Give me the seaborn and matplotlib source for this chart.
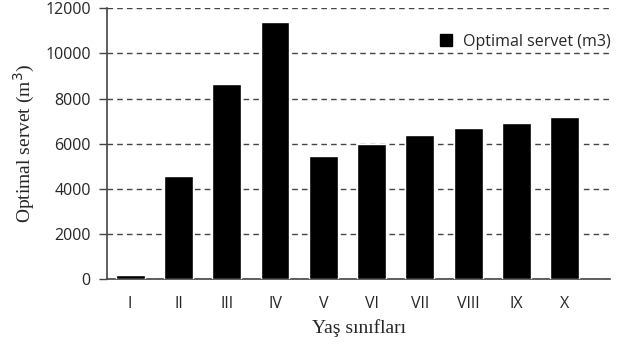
import numpy as np
import pandas as pd
import matplotlib
matplotlib.use("Agg")
import matplotlib.pyplot as plt
import seaborn as sns
from matplotlib.lines import Line2D

# Age classes and optimal stock values
classes = ["I", "II", "III", "IV", "V", "VI", "VII", "VIII", "IX", "X"]
values = [180, 4560, 8660, 11410, 5450, 6000, 6400, 6710, 6930, 7170]

df = pd.DataFrame({"sinif": classes, "servet": values})

sns.set_style("white")
plt.rcParams["font.family"] = ["Open Sans", "DejaVu Sans"]

fig = plt.figure(figsize=(6.25, 3.45), dpi=100)
ax = fig.add_axes([0.172, 0.191, 0.804, 0.785])

sns.barplot(data=df, x="sinif", y="servet", color="black", width=0.6,
            saturation=1, ax=ax, zorder=3)

ax.set_ylim(0, 12000)
ax.set_xlim(-0.47, 9.94)
ax.set_yticks(range(0, 12001, 2000))
ax.yaxis.grid(True, linestyle=(0, (4, 3)), color="#444444", linewidth=1, zorder=0)
ax.set_axisbelow(True)

for s in ["top", "right"]:
    ax.spines[s].set_visible(False)
for s in ["left", "bottom"]:
    ax.spines[s].set_color("#444444")
    ax.spines[s].set_linewidth(1.2)

ax.tick_params(axis="y", length=6, width=1, color="#444444", labelsize=11.5, pad=6, left=True)
ax.tick_params(axis="x", length=0, labelsize=11.5, pad=12)

ax.set_xlabel("Yaş sınıfları", family="Liberation Serif", fontsize=14, labelpad=5)
ax.set_ylabel("Optimal servet (m$^3$)", family="Liberation Serif", fontsize=14, labelpad=6)

handle = Line2D([], [], marker="s", color="black", linestyle="none", markersize=9)
ax.legend([handle], ["Optimal servet (m3)"], loc="upper right", frameon=False,
          fontsize=11.5, handletextpad=0.1, borderaxespad=0.0, bbox_to_anchor=(1.015, 0.93))

fig.savefig("out.png", dpi=100)
